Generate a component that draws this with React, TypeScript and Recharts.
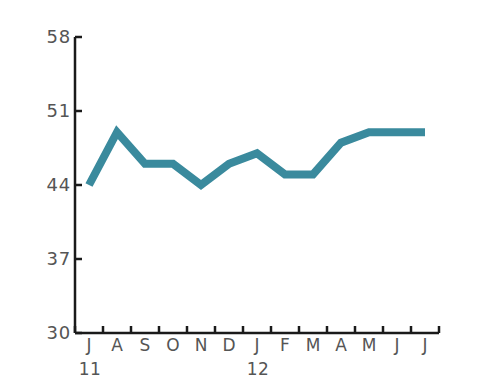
import { LineChart, Line, XAxis, YAxis } from 'recharts';

const months = ['J', 'A', 'S', 'O', 'N', 'D', 'J', 'F', 'M', 'A', 'M', 'J', 'J'];
const years = ['11', '', '', '', '', '', '12', '', '', '', '', '', ''];
const values = [44, 49, 46, 46, 44, 46, 47, 45, 45, 48, 49, 49, 49];
const yTicks = [30, 37, 44, 51, 58];

const data = months.map((m, i) => ({ key: i, month: m, year: years[i], value: values[i] }));

const W = 480;
const H = 392;
const MARGIN = { top: 37, right: 41, bottom: 0, left: 30 };
const Y_AXIS_W = 45;
const X_AXIS_H = 59;
const BAND = (W - MARGIN.left - Y_AXIS_W - MARGIN.right) / months.length;

const AXIS = '#1a1a1a';
const TEXT = '#555';
const FONT = '"DejaVu Sans", sans-serif';
const LINE = '#3a8a9d';

const XTick = ({ x, y, index }: { x: number; y: number; index: number }) => {
  const row = data[index];
  return (
    <g>
      <line x1={x - BAND / 2} x2={x - BAND / 2} y1={y} y2={y - 7} stroke={AXIS} strokeWidth={2.5} />
      {index === months.length - 1 && (
        <line x1={x + BAND / 2} x2={x + BAND / 2} y1={y} y2={y - 7} stroke={AXIS} strokeWidth={2.5} />
      )}
      <text x={x} y={y + 18} textAnchor="middle" fill={TEXT} fontSize={17} fontFamily={FONT}>
        {row.month}
      </text>
      {row.year && (
        <text x={x + 1} y={y + 42} textAnchor="middle" fill={TEXT} fontSize={17} fontFamily={FONT} letterSpacing={0.5}>
          {row.year}
        </text>
      )}
    </g>
  );
};

const YTick = ({ x, y, payload }: { x: number; y: number; payload: { value: number } }) => (
  <g>
    <line x1={x} x2={x + 7} y1={y} y2={y} stroke={AXIS} strokeWidth={2.5} />
    <text x={x - 4} y={y + 6} textAnchor="end" fill={TEXT} fontSize={18} fontFamily={FONT} letterSpacing={0.8}>
      {payload.value}
    </text>
  </g>
);

export default function App() {
  return (
    <div style={{ width: W, height: H }}>
      <style>{'body{margin:0}'}</style>
      <LineChart width={W} height={H} data={data} margin={MARGIN}>
        <XAxis
          dataKey="key"
          scale="band"
          height={X_AXIS_H}
          tickSize={0}
          tickMargin={0}
          interval={0}
          axisLine={{ stroke: AXIS, strokeWidth: 2.5 }}
          tickLine={false}
          tick={XTick}
        />
        <YAxis
          width={Y_AXIS_W}
          domain={[30, 58]}
          ticks={yTicks}
          interval={0}
          tickSize={0}
          tickMargin={0}
          axisLine={{ stroke: AXIS, strokeWidth: 2.5 }}
          tickLine={false}
          tick={YTick}
        />
        <Line
          dataKey="value"
          type="linear"
          stroke={LINE}
          strokeWidth={8}
          strokeLinejoin="miter"
          strokeLinecap="butt"
          dot={false}
          activeDot={false}
          isAnimationActive={false}
        />
      </LineChart>
    </div>
  );
}
